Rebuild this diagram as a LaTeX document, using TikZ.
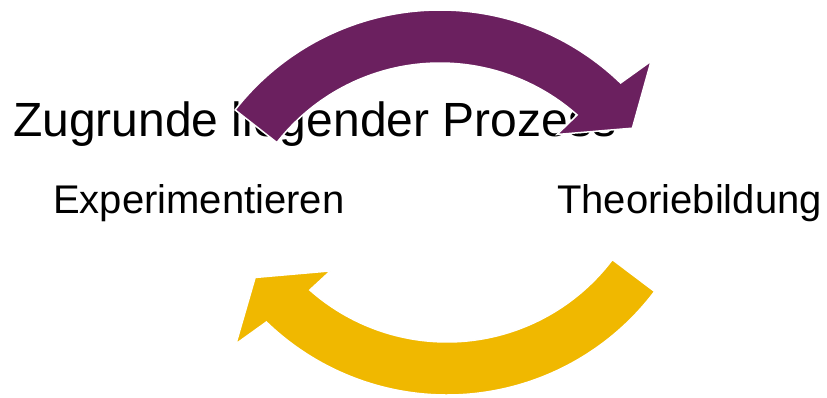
\documentclass[tikz,border=0pt]{standalone}
\usepackage{fontspec}
\setmainfont{Liberation Sans}
\usetikzlibrary{calc}
\definecolor{arrpurple}{RGB}{107,32,95}
\definecolor{arryellow}{RGB}{240,184,0}
\begin{document}
\begin{tikzpicture}[x=1pt,y=1pt,
  lbl/.style={anchor=base west,inner sep=0pt,font=\fontsize{40}{44}\selectfont},
  ttl/.style={anchor=base west,inner sep=0pt,font=\fontsize{48}{52}\selectfont},
  arrowband/.style={draw=white,line width=1.5pt,line join=miter}]
\useasboundingbox (0,0) rectangle (827,397);
\node[ttl] (title) at (13,261) {Zugrunde liegender Prozess};
\node[lbl] (exp) at (53,184) {Experimentieren};
\node[lbl] (theo) at (557,184) {Theoriebildung};
% purple arrow (top)
\coordinate (cp) at (440,127);
\fill[arrpurple,arrowband] ($(cp)+(142:260)$) arc[start angle=142,end angle=46,radius=260]
  -- ($(cp)+(44.7:297)$) -- ($(cp)+(36.4:239)$) -- ($(cp)+(49.2:179)$)
  -- ($(cp)+(48.5:207)$) arc[start angle=48.5,end angle=142,radius=207] -- cycle;
% yellow arrow (bottom)
\coordinate (cy) at (447,262);
\fill[arryellow,arrowband] ($(cy)+(323:260)$) arc[start angle=323,end angle=226,radius=260]
  -- ($(cy)+(224.7:297)$) -- ($(cy)+(216.6:239)$) -- ($(cy)+(229.4:179)$)
  -- ($(cy)+(228.5:207)$) arc[start angle=228.5,end angle=323,radius=207] -- cycle;
\end{tikzpicture}
\end{document}
